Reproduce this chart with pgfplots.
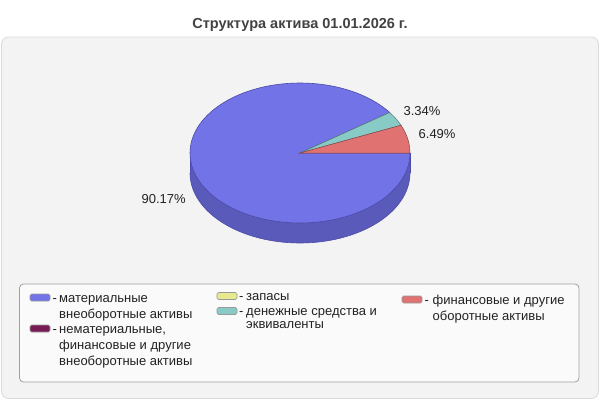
\documentclass[border=0pt]{standalone}
\usepackage{pgfplots}
\pgfplotsset{compat=1.18}
\usepackage{pgfplotstable}
\usepackage{fontspec}
\setmainfont{Liberation Sans}

\definecolor{cMat}{HTML}{7373E8}
\definecolor{cMatSide}{HTML}{5A5ABA}
\definecolor{cMatEdge}{HTML}{4B4BA8}
\definecolor{cNemat}{HTML}{771C55}
\definecolor{cZap}{HTML}{E8E88E}
\definecolor{cDen}{HTML}{88CAC6}
\definecolor{cFin}{HTML}{E07272}
\definecolor{panel}{HTML}{F3F3F3}
\definecolor{panelEdge}{HTML}{DADADA}
\definecolor{legFill}{HTML}{FAFAFA}
\definecolor{legEdge}{HTML}{A0A0A0}
\definecolor{txt}{HTML}{222222}

% share of each asset group, %
\pgfplotstableread{
group value
mat   90.17
nemat 0
zap   0
den   3.34
fin   6.49
}\pietable

\newcommand\lfont{\fontsize{13}{15}\selectfont}
\newcommand\ltext[3]{\node[anchor=base west, inner sep=0pt, font=\lfont, text=txt] at (axis cs:#1,{400-#2-4.5}) {#3};}
\newcommand\lswatch[3]{\filldraw[fill=#3, draw=gray!80, rounded corners=1.5pt, line width=0.6pt] (axis cs:#1,{400-#2-3.5}) rectangle (axis cs:{#1+20},{400-#2+3.5});}

\begin{document}
\begin{tikzpicture}
\pgfplotstablegetelem{0}{value}\of\pietable \pgfmathsetmacro\vA{\pgfplotsretval}
\pgfplotstablegetelem{3}{value}\of\pietable \pgfmathsetmacro\vD{\pgfplotsretval}
\pgfplotstablegetelem{4}{value}\of\pietable \pgfmathsetmacro\vE{\pgfplotsretval}
% slices run clockwise from east
\pgfmathsetmacro\aA{360-3.6*\vA}
\pgfmathsetmacro\aD{\aA-3.6*\vD}
\pgfmathsetmacro\aE{\aD-3.6*\vE}
\pgfmathsetmacro\mA{(\aA+360)/2}
\pgfmathsetmacro\mD{(\aD+\aA)/2}
\pgfmathsetmacro\mE{(\aE+\aD)/2}
\begin{axis}[
  scale only axis, width=600pt, height=400pt,
  xmin=0, xmax=600, ymin=0, ymax=400,
  axis lines=none, ticks=none]
\fill[white] (axis cs:0,0) rectangle (axis cs:600,400);
\filldraw[fill=panel, draw=panelEdge, rounded corners=7pt, line width=0.8pt]
  (axis cs:1.5,1.5) rectangle (axis cs:598.5,363);
\node[font=\fontsize{14.5}{16}\selectfont\bfseries, text=black!74] at (axis cs:300,375.5) {Структура актива 01.01.2026 г.};

% side of the pie
\addplot[fill=cMatSide, draw=cMatEdge, line width=0.6pt, domain=180:360, samples=90]
  ({300+110*cos(x)},{227+70*sin(x)});
\addplot[fill=cMatSide, draw=none] coordinates {(190,227) (410,227) (410,247) (190,247)} -- cycle;
\addplot[draw=cMatEdge, line width=0.6pt] coordinates {(190,227) (190,247)};
\addplot[draw=cMatEdge, line width=0.6pt] coordinates {(410,227) (410,247)};

% top face
\addplot[fill=cMat, draw=cMatEdge, line width=0.6pt, domain=\aA:360, samples=120]
  ({300+110*cos(x)},{247+70*sin(x)}) -- (axis cs:300,247) -- cycle;
\addplot[fill=cDen, draw=cDen!60!black, line width=0.5pt, domain=\aD:\aA, samples=12]
  ({300+110*cos(x)},{247+70*sin(x)}) -- (axis cs:300,247) -- cycle;
\addplot[fill=cFin, draw=cFin!60!black, line width=0.5pt, domain=\aE:\aD, samples=20]
  ({300+110*cos(x)},{247+70*sin(x)}) -- (axis cs:300,247) -- cycle;

% value labels
\node[font=\lfont, text=txt] at (axis cs:{297+140*cos(\mA)},{247+85*sin(\mA)-20})
  {\pgfmathprintnumber[fixed,precision=2,fixed zerofill,assume math mode=true]{\vA}\%};
\node[font=\lfont, text=txt] at (axis cs:{300+140*cos(\mD)},{247+85*sin(\mD)})
  {\pgfmathprintnumber[fixed,precision=2,fixed zerofill,assume math mode=true]{\vD}\%};
\node[font=\lfont, text=txt] at (axis cs:{300+140*cos(\mE)},{247+85*sin(\mE)+2})
  {\pgfmathprintnumber[fixed,precision=2,fixed zerofill,assume math mode=true]{\vE}\%};

% legend
\filldraw[fill=legFill, draw=legEdge, rounded corners=4pt, line width=0.8pt]
  (axis cs:19.5,18) rectangle (axis cs:579,116);
\lswatch{30}{297.5}{cMat}
\ltext{52.5}{298}{-}
\ltext{59}{298}{материальные}
\ltext{59}{314}{внеоборотные активы}
\lswatch{30}{328.5}{cNemat}
\ltext{52.5}{329}{-}
\ltext{59}{329}{нематериальные,}
\ltext{59}{345}{финансовые и другие}
\ltext{59}{361}{внеоборотные активы}
\lswatch{217}{296}{cZap}
\ltext{239}{296}{-}
\ltext{246}{296}{запасы}
\lswatch{217}{311}{cDen}
\ltext{239}{311}{-}
\ltext{246}{311}{денежные средства и}
\ltext{246}{324}{эквиваленты}
\lswatch{402}{299.5}{cFin}
\ltext{424.5}{300}{-}
\ltext{432.5}{300}{финансовые и другие}
\ltext{432.5}{316}{оборотные активы}
\end{axis}
\end{tikzpicture}
\end{document}
